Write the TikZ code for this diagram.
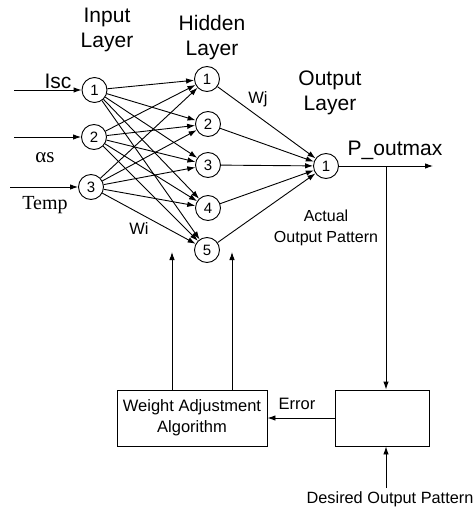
\documentclass[tikz,border=0pt]{standalone}
\usepackage{fontspec}
\setmainfont{Liberation Sans}
\newfontfamily\serifx{Liberation Serif}
\usetikzlibrary{arrows.meta}
\begin{document}
\begin{tikzpicture}[x=1pt,y=-1pt,
  neuron/.style={draw,circle,minimum size=25pt,inner sep=0pt,font=\fontsize{15}{15}\selectfont},
  lbl/.style={font=\fontsize{21}{25}\selectfont,align=center,inner sep=0pt},
  slbl/.style={font=\fontsize{16.5}{21}\selectfont,align=center,inner sep=0pt},
  box/.style={draw,inner sep=0pt},
  conn/.style={-{Latex[length=8pt,width=5.5pt]},line width=0.9pt},
  every path/.style={line width=0.9pt}]
\useasboundingbox (0,0) rectangle (475,508);
% input neurons
\node[neuron] (i1) at (94.5,90) {1};
\node[neuron] (i2) at (94,137) {2};
\node[neuron] (i3) at (91,187) {3};
% hidden neurons
\node[neuron] (h1) at (207,79) {1};
\node[neuron] (h2) at (208,124) {2};
\node[neuron] (h3) at (208,165) {3};
\node[neuron] (h4) at (208,208) {4};
\node[neuron] (h5) at (207,250) {5};
% output
\node[neuron] (o1) at (326,166) {1};
% layer titles
\node[lbl] (tin) at (107,30) {Input\\Layer};
\node[lbl] (thid) at (212,38) {Hidden\\Layer};
\node[lbl] (tout) at (330,93) {Output\\Layer};
% input arrows
\coordinate (si1) at (14,90);
\coordinate (si2) at (14,137);
\coordinate (si3) at (10,187);
\draw[conn] (si1) -- (i1);
\draw[conn] (si2) -- (i2);
\draw[conn] (si3) -- (i3);
\node[lbl] (isc) at (58,81) {Isc};
\node[lbl,font=\serifx\fontsize{21}{25}\selectfont] (as) at (45,158) {αs};
\node[lbl,font=\serifx\fontsize{20}{25}\selectfont] (temp) at (45,205) {Temp};
% input to hidden
\foreach \i in {1,2,3}{
  \foreach \h in {1,2,3,4,5}{
    \draw[conn] (i\i) -- (h\h);
  }
}
% hidden to output
\foreach \h in {1,2,3,4,5}{
  \draw[conn] (h\h) -- (o1);
}
\node[slbl] (wi) at (139,229) {Wi};
\node[slbl] (wj) at (258,99) {Wj};
% output arrow
\coordinate (pend) at (433,166);
\draw[conn] (o1) -- (pend);
\node[lbl] (pout) at (395,150) {P\_outmax};
\node[slbl,font=\fontsize{16}{21}\selectfont] (act) at (326,228) {Actual\\Output Pattern};
% boxes
\node[box,minimum width=150pt,minimum height=56pt,font=\fontsize{16.5}{21}\selectfont,align=center] (wbox) at (192,418) {Weight Adjustment\\Algorithm};
\node[box,minimum width=94pt,minimum height=56pt] (cbox) at (382,418) {};
% vertical from output line down to comparator
\coordinate (tap) at (386,166);
\draw[conn] (tap) -- (tap |- cbox.north);
% error
\draw[conn] (cbox.west) -- (wbox.east);
\node[slbl] (err) at (297,404) {Error};
% desired
\coordinate (dstart) at (386,488);
\draw[conn] (dstart) -- (dstart |- cbox.south);
\node[slbl,font=\fontsize{16.3}{20}\selectfont] (des) at (390,499) {Desired Output Pattern};
% up arrows from weight box
\coordinate (u1) at (172,252);
\coordinate (u2) at (232,252);
\draw[conn] (u1 |- wbox.north) -- (u1);
\draw[conn] (u2 |- wbox.north) -- (u2);
\end{tikzpicture}
\end{document}
